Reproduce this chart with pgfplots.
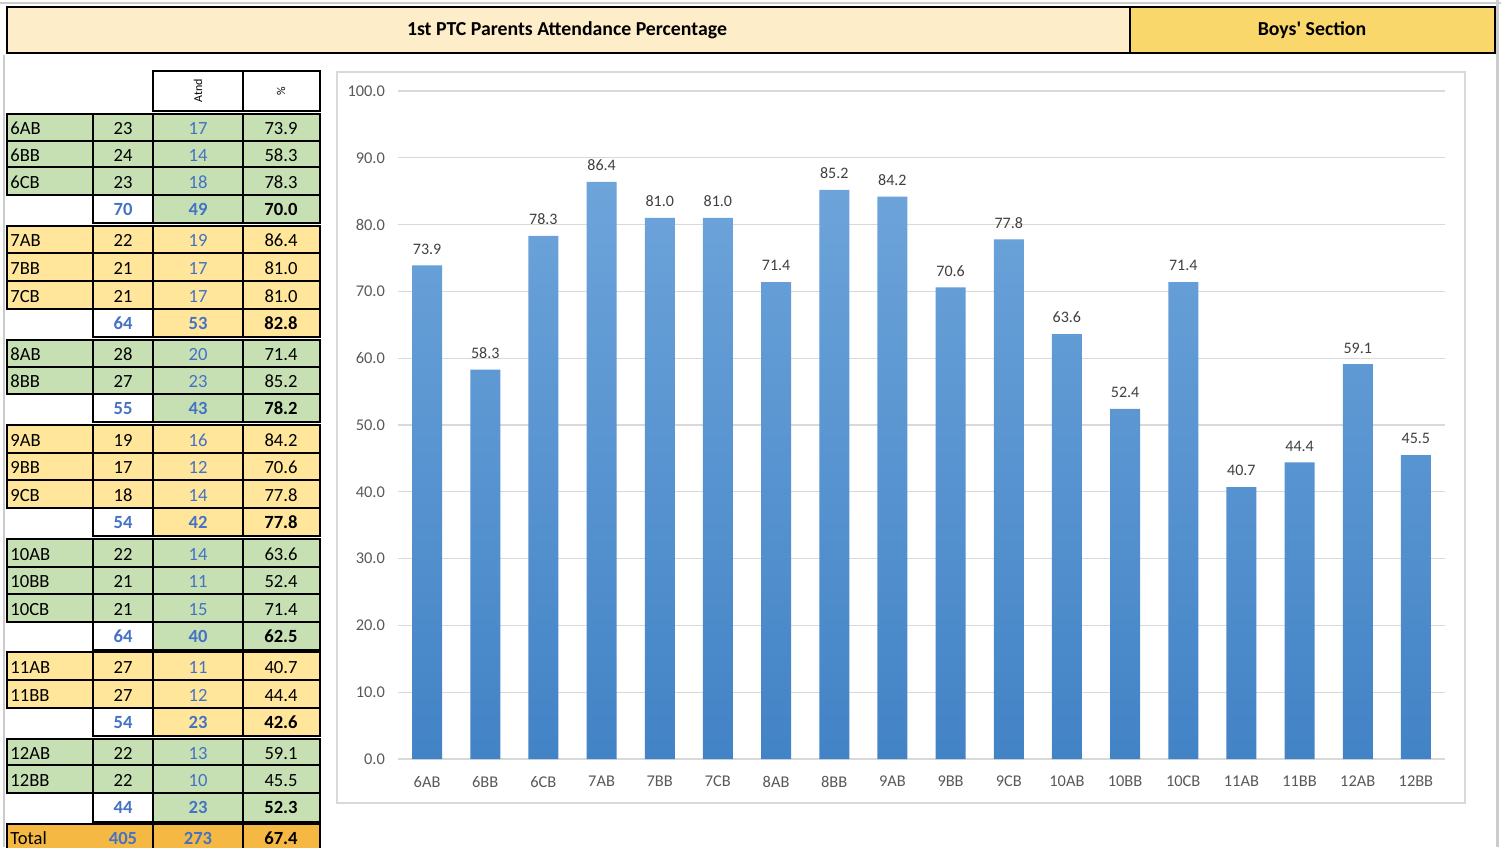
\documentclass[border=0pt]{standalone}
\usepackage{pgfplots}
\pgfplotsset{compat=1.18}
\usepackage{fontspec}
\setmainfont{Carlito}[Ligatures=TeXOff]

\definecolor{hdrlight}{HTML}{FDEDC8}
\definecolor{hdrdark}{HTML}{F9D76B}
\definecolor{grn}{HTML}{C6E0B4}
\definecolor{ylw}{HTML}{FFE69B}
\definecolor{org}{HTML}{F5B943}
\definecolor{blu}{HTML}{4472C4}
\definecolor{barTop}{HTML}{6DA4DA}
\definecolor{barBot}{HTML}{4283C6}
\definecolor{gridgray}{HTML}{D9D9D9}
\definecolor{tickgray}{HTML}{595959}
\definecolor{labgray}{HTML}{404040}

\newcommand{\tf}{\fontsize{9.3}{11}\selectfont}
\tikzset{tc/.style={font=\tf, inner sep=0pt, text height=6pt, text depth=0pt}}

% one class row: top, bottom, fill, name, total, attended, percent
\newcommand{\datarow}[7]{%
  \fill[#3] (7,#1) rectangle (320,#2);
  \draw[line width=0.6pt] (7,#1) -- (320,#1) (7,#2) -- (320,#2);
  \draw[line width=1.1pt] (93,#1) -- (93,#2) (153,#1) -- (153,#2) (243,#1) -- (243,#2);
  \node[tc, anchor=west] at (10,{(#1+#2)/2+1}) {#4};
  \node[tc] at (123,{(#1+#2)/2+1}) {#5};
  \node[tc, text=blu] at (198,{(#1+#2)/2+1}) {#6};
  \node[tc] at (281,{(#1+#2)/2+1}) {#7};
}
% subtotal row: top, bottom, fill, total, attended, percent
\newcommand{\subrow}[6]{%
  \fill[#3] (153,#1) rectangle (320,#2);
  \draw[line width=1.3pt] (93,#1) rectangle (320,#2);
  \draw[line width=1.3pt] (153,#1) -- (153,#2) (243,#1) -- (243,#2);
  \node[tc, text=blu, font=\tf\bfseries] at (123,{(#1+#2)/2}) {#4};
  \node[tc, text=blu, font=\tf\bfseries] at (198,{(#1+#2)/2}) {#5};
  \node[tc, font=\tf\bfseries] at (281,{(#1+#2)/2}) {#6};
}
\newcommand{\groupbox}[2]{\draw[line width=1.3pt] (7,#1) rectangle (320,#2);}

\begin{document}
\begin{tikzpicture}[x=0.5pt, y=-0.5pt]
\path[use as bounding box] (0,0) rectangle (1501,847);
\fill[white] (0,0) rectangle (1501,847);
\draw[gray!40, line width=1pt] (0,3) -- (1501,3);
\draw[gray!40, line width=1pt] (4,55) -- (4,847);
\draw[gray!40, line width=1.5pt] (1497,0) -- (1497,847);

% title band
\fill[hdrlight] (7,7) rectangle (1130,53);
\fill[hdrdark] (1130,7) rectangle (1495,53);
\draw[line width=0.8pt] (7,7) rectangle (1495,53);
\draw[line width=0.8pt] (1130,7) -- (1130,53);
\node[font=\fontsize{9.9}{12}\selectfont\bfseries] at (567,30) {1st PTC Parents Attendance Percentage};
\node[font=\fontsize{9.9}{12}\selectfont\bfseries] at (1312,30) {Boys' Section};

% table head
\draw[line width=1.3pt] (153,71) rectangle (320,111);
\draw[line width=1.3pt] (243,71) -- (243,111);
\node[rotate=90, font=\fontsize{6}{7}\selectfont] at (198,91) {Atnd};
\node[rotate=90, font=\fontsize{6}{7}\selectfont] at (281,91) {\%};

% grade 6
\datarow{114}{141}{grn}{6AB}{23}{17}{73.9}
\datarow{141}{167}{grn}{6BB}{24}{14}{58.3}
\datarow{167}{195}{grn}{6CB}{23}{18}{78.3}
\groupbox{114}{195}
\subrow{195}{223}{grn}{70}{49}{70.0}
% grade 7
\datarow{226}{253}{ylw}{7AB}{22}{19}{86.4}
\datarow{253}{281}{ylw}{7BB}{21}{17}{81.0}
\datarow{281}{309}{ylw}{7CB}{21}{17}{81.0}
\groupbox{226}{309}
\subrow{309}{337}{ylw}{64}{53}{82.8}
% grade 8
\datarow{340}{367}{grn}{8AB}{28}{20}{71.4}
\datarow{367}{394}{grn}{8BB}{27}{23}{85.2}
\groupbox{340}{394}
\subrow{394}{422}{grn}{55}{43}{78.2}
% grade 9
\datarow{425}{453}{ylw}{9AB}{19}{16}{84.2}
\datarow{453}{480}{ylw}{9BB}{17}{12}{70.6}
\datarow{480}{508}{ylw}{9CB}{18}{14}{77.8}
\groupbox{425}{508}
\subrow{508}{536}{ylw}{54}{42}{77.8}
% grade 10
\datarow{539}{567}{grn}{10AB}{22}{14}{63.6}
\datarow{567}{594}{grn}{10BB}{21}{11}{52.4}
\datarow{594}{622}{grn}{10CB}{21}{15}{71.4}
\groupbox{539}{622}
\subrow{622}{650}{grn}{64}{40}{62.5}
% grade 11
\datarow{652}{680}{ylw}{11AB}{27}{11}{40.7}
\datarow{680}{708}{ylw}{11BB}{27}{12}{44.4}
\groupbox{652}{708}
\subrow{708}{736}{ylw}{54}{23}{42.6}
% grade 12
\datarow{739}{765}{grn}{12AB}{22}{13}{59.1}
\datarow{765}{793}{grn}{12BB}{22}{10}{45.5}
\groupbox{739}{793}
\subrow{793}{822}{grn}{44}{23}{52.3}
% total
\fill[org] (7,824) rectangle (320,852);
\draw[line width=1.3pt] (7,824) rectangle (320,852);
\draw[line width=1.3pt] (153,824) -- (153,852) (243,824) -- (243,852);
\node[tc, anchor=west] at (10,838) {Total};
\node[tc, text=blu, font=\tf\bfseries] at (123,838) {405};
\node[tc, text=blu, font=\tf\bfseries] at (198,838) {273};
\node[tc, font=\tf\bfseries] at (281,838) {67.4};

% chart frame
\draw[gridgray, line width=1pt] (337,72) rectangle (1465,803);

\begin{axis}[
    at={(199pt,-379.5pt)}, anchor=south west,
    scale only axis, width=523.5pt, height=334pt,
    ybar, bar width=15pt,
    xmin=-0.5, xmax=17.5, ymin=0, ymax=100,
    xtick=data,
    xticklabels={6AB,6BB,6CB,7AB,7BB,7CB,8AB,8BB,9AB,9BB,9CB,10AB,10BB,10CB,11AB,11BB,12AB,12BB},
    ytick={0,10,...,100},
    ymajorgrids, grid style={draw=gridgray, line width=0.6pt},
    axis line style={draw=none},
    major tick length=0pt,
    /pgf/number format/assume math mode=true,
    tick label style={font=\fontsize{8.2}{9}\selectfont, text=tickgray},
    yticklabel style={/pgf/number format/fixed, /pgf/number format/fixed zerofill, /pgf/number format/precision=1, xshift=-3pt},
    xticklabel style={yshift=-5pt},
    nodes near coords,
    nodes near coords style={font=\fontsize{8}{9}\selectfont, text=labgray,
        /pgf/number format/fixed, /pgf/number format/fixed zerofill, /pgf/number format/precision=1, yshift=2pt},
    clip=false,
]
\addplot[draw=none, top color=barTop, bottom color=barBot] coordinates {
    (0,73.9) (1,58.3) (2,78.3) (3,86.4) (4,81.0) (5,81.0) (6,71.4) (7,85.2) (8,84.2)
    (9,70.6) (10,77.8) (11,63.6) (12,52.4) (13,71.4) (14,40.7) (15,44.4) (16,59.1) (17,45.5)};
\end{axis}
\end{tikzpicture}
\end{document}
